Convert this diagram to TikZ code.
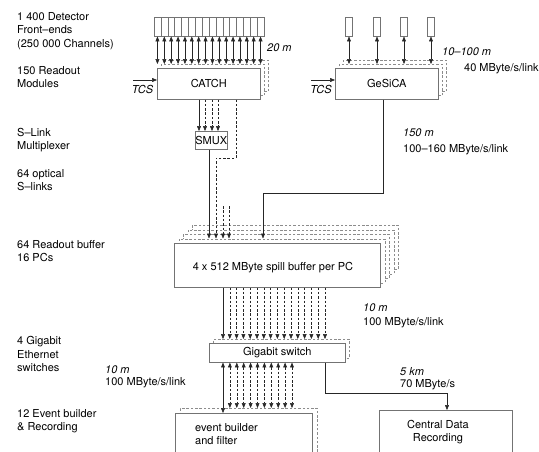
\documentclass[tikz,border=0pt]{standalone}
\usepackage{fontspec}
\setmainfont{TeX Gyre Heros}
\usetikzlibrary{arrows.meta}
\definecolor{boxgray}{gray}{0.45}
\definecolor{ghostgray}{gray}{0.55}
\definecolor{linegray}{gray}{0.15}
\begin{document}
\begin{tikzpicture}[x=1pt,y=-1pt,
  every node/.style={font=\fontsize{11}{13.3}\selectfont},
  lab/.style={anchor=west, inner sep=0pt, align=left},
  ilab/.style={lab, font=\fontsize{11}{13.3}\selectfont\itshape},
  box/.style={draw=boxgray, fill=white, line width=0.6pt, inner sep=0pt, anchor=north west},
  ghost/.style={box, draw=ghostgray, dash pattern=on 2.5pt off 1.8pt},
  fe/.style={draw=boxgray, line width=0.5pt, inner sep=0pt, minimum height=19pt, anchor=north},
  link/.style={line width=0.5pt, draw=linegray},
  dlink/.style={link, dash pattern=on 2.5pt off 1.8pt},
  tip/.style={-{Triangle[length=4.8pt,width=3.8pt]}},
  dtip/.style={{Triangle[length=4.8pt,width=3.8pt]}-{Triangle[length=4.8pt,width=3.8pt]}},
]
\clip (0,0) rectangle (539,452);
\fill[white] (0,0) rectangle (539,452);

% ---- left column labels
\node[lab] (l1) at (17,31) {1 400 Detector\\Front–ends\\(250 000 Channels)};
\node[lab] (l2) at (17,77) {150 Readout\\Modules};
\node[lab] (l3) at (17,140) {S–Link\\Multiplexer};
\node[lab] (l4) at (17,180) {64 optical\\S–links};
\node[lab] (l5) at (17,251) {64 Readout buffer\\16 PCs};
\node[lab] (l6) at (17,354) {4 Gigabit\\Ethernet\\switches};
\node[lab] (l7) at (17,421) {12 Event builder\\\& Recording};

% ---- CATCH
\foreach \i in {1,...,16}
  \node[fe, minimum width=6.875pt] (fe\i) at ({154+6.875*(\i-0.5)},17) {};
\node[ghost, minimum width=103pt, minimum height=31pt] (catchg2) at (165,60) {};
\node[ghost, minimum width=103pt, minimum height=31pt] (catchg1) at (161,64) {};
\node[box, minimum width=103pt, minimum height=31pt] (catch) at (157,68) {CATCH};
\foreach \i in {1,...,16}
  \draw[link, dtip] (fe\i.south) -- (fe\i.south |- catchg1.north);
\node[ilab] (m20) at (267,48) {20 m};
\node[ilab, anchor=center] (tcs1) at (142.5,89) {TCS};
\coordinate (tcs1s) at (133,80);
\draw[link, tip] (tcs1s) -- (tcs1s -| catch.west);

% ---- GeSiCA
\foreach \x [count=\i] in {349,377,404,431}
  \node[fe, minimum width=7pt] (gf\i) at (\x,17) {};
\node[ghost, minimum width=103pt, minimum height=31pt] (gesg2) at (343,60) {};
\node[ghost, minimum width=103pt, minimum height=31pt] (gesg1) at (339,64) {};
\node[box, minimum width=103pt, minimum height=31pt] (gesica) at (335,68) {GeSiCA};
\foreach \i in {1,...,4}
  \draw[link, dtip] (gf\i.south) -- (gf\i.south |- gesg1.north);
\node[ilab] (m10100) at (442,52) {10–100 m};
\node[lab] (r40) at (464,69) {40 MByte/s/link};
\node[ilab, anchor=center] (tcs2) at (321,89) {TCS};
\coordinate (tcs2s) at (311,80);
\draw[link, tip] (tcs2s) -- (tcs2s -| gesica.west);

% ---- SMUX
\node[box, minimum width=32pt, minimum height=18pt] (smux) at (195,131) {SMUX};
\draw[link, tip] (catch.south -| 199,0) -- (smux.north -| 199,0);
\foreach \x in {205,212,218}
  \draw[dlink, tip] (catch.south -| \x,0) -- (smux.north -| \x,0);

% ---- spill buffer
\foreach \k in {4,3,2,1}
  \node[ghost, minimum width=206pt, minimum height=44pt] (spillg\k) at ({174+4.5*\k},{243-4.5*\k}) {};
\node[box, minimum width=206pt, minimum height=44pt] (spill) at (174,243) {};
\node[inner sep=0pt] (spilltxt) at (273,268) {4 x 512 MByte spill buffer per PC};

\draw[link, tip] (smux.south -| 209,0) -- (spillg1.north -| 209,0);
\draw[dlink, tip] (catch.south -| 236,0) -- (236,158) -- (216,158) -- (spillg1.north -| 216,0);
\foreach \x in {223,229}
  \draw[dlink, tip] (\x,206) -- (spillg1.north -| \x,0);
\draw[link, tip] (gesica.south -| 383,0) -- (383,193) -- (263,193) -- (spillg1.north -| 263,0);
\node[ilab] (m150) at (403,133) {150 m};
\node[lab] (r150) at (403,150) {100–160 MByte/s/link};

% ---- Gigabit switch
\node[ghost, minimum width=136pt, minimum height=19pt] (swg) at (213,339) {};
\node[box, minimum width=136pt, minimum height=19pt] (switch) at (209,343) {Gigabit switch};
\draw[link, tip] (spill.south -| 223,0) -- (swg.north -| 223,0);
\foreach \i in {1,...,15}
  \draw[dlink, tip] (spill.south -| {223+6.8*\i},0) -- (swg.north -| {223+6.8*\i},0);
\node[ilab] (m10a) at (363,308) {10 m};
\node[lab] (r10a) at (363,323) {100 MByte/s/link};

% ---- event builder
\node[ghost, minimum width=137pt, minimum height=70pt] (ebg) at (180,408) {};
\node[box, minimum width=137pt, minimum height=70pt] (eb) at (175,413) {};
\node[lab, anchor=north west] (ebtxt) at (195,423) {event builder\\and filter};
\draw[link, dtip] (switch.south -| 223,0) -- (eb.north -| 223,0);
\foreach \i in {1,...,10}
  \draw[dlink, dtip] (switch.south -| {223+6.9*\i},0) -- (ebg.north -| {223+6.9*\i},0);
\node[ilab] (m10b) at (105,370) {10 m};
\node[lab] (r10b) at (105,383) {100 MByte/s/link};

% ---- central data recording
\node[box, minimum width=133pt, minimum height=70pt] (cdr) at (379,410) {};
\node[inner sep=0pt, align=center, anchor=north] (cdrtxt) at (438,420) {Central Data\\Recording};
\draw[link, tip] (switch.south -| 325,0) -- (325,393) -- (447,393) -- (cdr.north -| 447,0);
\node[ilab] (m5) at (400,372) {5 km};
\node[lab] (r70) at (400,385) {70 MByte/s};
\end{tikzpicture}
\end{document}
